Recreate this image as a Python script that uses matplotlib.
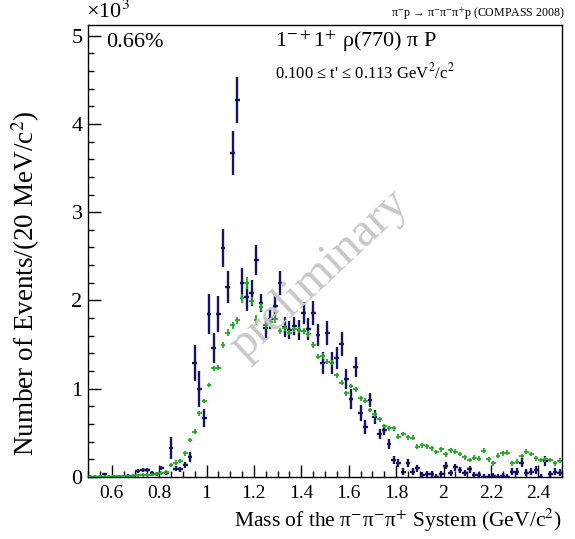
import numpy as np
import matplotlib
matplotlib.use("Agg")
import matplotlib.pyplot as plt
from matplotlib.ticker import MultipleLocator

# 20 MeV bins from 0.5 to 2.5 GeV/c^2
mass = np.round(np.arange(0.51, 2.5, 0.02), 2)

# data points (events per bin)
data = [0, 3, 3, 31, 0, 3, 0, 3, 15, 11,
        68, 79, 79, 42, 31, 99, 42, 325, 91, 87,
        136, 225, 1294, 993, 672, 1846, 1458, 1846, 2597, 2155,
        3666, 4266, 2194, 2042, 2080, 2458, 1974, 1684, 1786, 1937,
        2200, 1702, 1665, 1710, 1665, 1854, 1673, 1854, 1608, 1294,
        1634, 1294, 1348, 1506, 1110, 880, 1249, 721, 570, 872,
        683, 487, 532, 374, 193, 162, 60, 162, 60, 99,
        23, 37, 34, 0, 34, 125, 49, 110, 79, 42,
        87, 23, 19, 3, 0, 11, 3, 11, 3, 57,
        60, 162, 49, 60, 79, 3, 181, 31, 57, 49]
data_err = [17, 17, 17, 17, 17, 17, 17, 17, 17, 17,
            23, 23, 23, 23, 23, 23, 23, 124, 28, 28,
            34, 57, 204, 204, 102, 226, 170, 204, 215, 181,
            249, 260, 170, 158, 147, 170, 102, 113, 113, 125,
            136, 113, 102, 102, 113, 125, 125, 136, 125, 125,
            136, 125, 125, 136, 113, 113, 113, 91, 79, 79,
            79, 57, 57, 57, 45, 45, 40, 45, 40, 40,
            35, 35, 35, 35, 35, 40, 35, 40, 35, 35,
            40, 35, 35, 35, 35, 35, 35, 35, 35, 40,
            40, 50, 40, 40, 40, 35, 55, 40, 40, 40]

# fit model intensity
model = [2, 3, 3, 5, 5, 8, 8, 10, 12, 15,
         18, 22, 25, 28, 35, 45, 60, 136, 162, 178,
         268, 419, 513, 721, 861, 1042, 1231, 1238, 1495, 1634,
         1721, 1778, 2024, 2194, 1993, 1778, 1929, 1721, 1759, 1786,
         1657, 1684, 1634, 1673, 1665, 1653, 1619, 1495, 1362, 1370,
         1306, 1294, 1155, 1068, 948, 1031, 993, 891, 864, 759,
         713, 653, 578, 552, 552, 456, 487, 450, 445, 343,
         357, 348, 325, 281, 314, 255, 302, 287, 260, 223,
         193, 219, 207, 298, 200, 155, 241, 268, 275, 155,
         173, 238, 287, 260, 212, 193, 200, 193, 155, 185]
model_err = [15, 15, 15, 15, 15, 15, 15, 15, 15, 15,
             18, 18, 18, 18, 18, 22, 22, 25, 25, 25,
             28, 28, 28, 28, 28, 28, 30, 30, 35, 40,
             40, 40, 50, 66, 45, 57, 45, 40, 40, 40,
             35, 35, 30, 30, 30, 30, 30, 30, 30, 30,
             30, 30, 28, 28, 28, 28, 28, 28, 28, 28,
             28, 28, 28, 28, 28, 26, 26, 26, 26, 26,
             26, 26, 26, 26, 26, 26, 26, 26, 26, 26,
             26, 26, 26, 26, 26, 26, 26, 26, 26, 26,
             26, 26, 26, 26, 26, 26, 26, 26, 26, 26]

plt.rcParams['font.family'] = ['Liberation Serif', 'DejaVu Serif']
plt.rcParams['mathtext.fontset'] = 'stix'

fig = plt.figure(figsize=(5.75, 5.39), dpi=100)
ax = fig.add_axes([88 / 575, 62 / 539, 474 / 575, 452 / 539])

def fx(x):
    return x / 575

def fy(y):
    return 1 - y / 539

# watermark
fig.text(fx(319), fy(274), "preliminary", rotation=43, fontsize=35,
         color='#c8c8c8', ha='center', va='center', zorder=0)

ax.set_facecolor('none')
ax.errorbar(mass, np.array(data) / 1000, yerr=np.array(data_err) / 1000,
            xerr=0.01, fmt='none', ecolor='#141466', elinewidth=1.7,
            capsize=0, zorder=3)
ax.errorbar(mass, np.array(model) / 1000, yerr=np.array(model_err) / 1000,
            xerr=0.01, fmt='none', ecolor='#22aa22', elinewidth=1.3,
            capsize=0, zorder=4)

ax.set_xlim(0.5, 2.5)
ax.set_ylim(0, 5.12)
ax.xaxis.set_minor_locator(MultipleLocator(0.05))
ax.yaxis.set_minor_locator(MultipleLocator(0.2))
ax.set_xticks([0.6, 0.8, 1.0, 1.2, 1.4, 1.6, 1.8, 2.0, 2.2, 2.4])
ax.set_xticklabels(['0.6', '0.8', '1', '1.2', '1.4', '1.6', '1.8', '2', '2.2', '2.4'])
ax.set_yticks([0, 1, 2, 3, 4, 5])
ax.set_yticklabels(['0', '1', '2', '3', '4', '5'])
ax.tick_params(which='both', direction='in', top=False, right=False, width=1)
ax.tick_params(which='major', length=9)
ax.tick_params(which='minor', length=4.5)
ax.tick_params(axis='x', labelsize=14, pad=6)
ax.tick_params(axis='y', labelsize=16, pad=4)
for s in ax.spines.values():
    s.set_linewidth(1)

ax.set_xlabel("Mass of the π$^{-}$π$^{-}$π$^{+}$ System (GeV/c$^{2}$)",
              fontsize=15.5, ha='right', va='center')
ax.xaxis.set_label_coords(1.0, -0.097)
ax.set_ylabel("Number of Events/(20 MeV/c$^{2}$)", fontsize=19.5,
              va='center', ha='center')
ax.yaxis.set_label_coords(-0.131, 0.428)

fig.text(fx(86), fy(12), "×10$^{3}$", fontsize=16, ha='left', va='center')
fig.text(fx(565), fy(14), "π$^{-}$p → π$^{-}$π$^{-}$π$^{+}$p (COMPASS 2008)",
         fontsize=8.6, ha='right', va='center')
fig.text(fx(106), fy(47), "0.66%", fontsize=16, ha='left', va='baseline')
fig.text(fx(275), fy(47), "1$^{-+}$1$^{+}$ ρ(770) π P", fontsize=16,
         ha='left', va='baseline')
fig.text(fx(275), fy(78), "0.100 ≤ t' ≤ 0.113 GeV$^{2}$/c$^{2}$", fontsize=12,
         ha='left', va='baseline')

fig.savefig("out.png", dpi=100)
